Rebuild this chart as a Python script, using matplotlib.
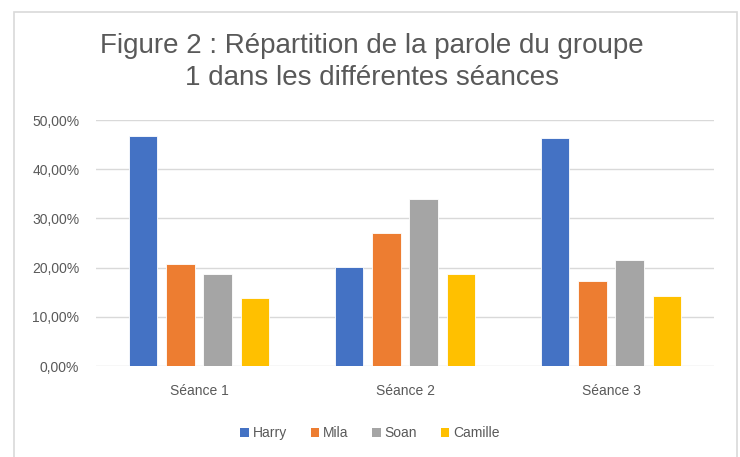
import matplotlib.pyplot as plt
from matplotlib.patches import Patch, Rectangle
from matplotlib.ticker import FuncFormatter
import numpy as np

# Données (en %)
seances = ['Séance 1', 'Séance 2', 'Séance 3']
eleves = ['Harry', 'Mila', 'Soan', 'Camille']
harry = [46.8, 20.2, 46.3]
mila = [20.7, 27.1, 17.3]
soan = [18.6, 33.9, 21.5]
camille = [13.9, 18.6, 14.3]
couleurs = ['#4472C4', '#ED7D31', '#A5A5A5', '#FFC000']

W, H = 740, 457
fig = plt.figure(figsize=(W / 100, H / 100), dpi=100)
ax = fig.add_axes([96 / W, 1 - 366 / H, (714 - 96) / W, (366 - 120) / H])

x = np.arange(len(seances))
step = 0.181
width = 0.138
for i, (serie, c) in enumerate(zip([harry, mila, soan, camille], couleurs)):
    ax.bar(x + (i - 1.5) * step, serie, width, color=c, edgecolor='white',
           linewidth=0.6, zorder=3)

ax.set_xlim(-0.5, 2.5)
ax.set_ylim(0, 50)
ax.set_yticks(range(0, 51, 10))
ax.yaxis.set_major_formatter(FuncFormatter(lambda v, p: f"{v:.2f}".replace('.', ',') + '%'))
ax.grid(axis='y', color='#D9D9D9', linewidth=1, zorder=0)
for s in ax.spines.values():
    s.set_visible(False)
ax.tick_params(length=0, colors='#595959', labelsize=10)
ax.tick_params(axis='y', pad=12)
ax.tick_params(axis='x', pad=13)
ax.set_xticks(x)
ax.set_xticklabels(seances, fontfamily='Liberation Sans')
for t in ax.get_yticklabels():
    t.set_fontfamily('Liberation Sans')

fig.text(372 / W, 1 - 62 / H, 'Figure 2 : Répartition de la parole du groupe\n1 dans les différentes séances',
         ha='center', va='center', fontsize=20, color='#595959',
         fontfamily='Liberation Sans', linespacing=1.3)

handles = [Patch(facecolor=c, label=n) for c, n in zip(couleurs, eleves)]
leg = fig.legend(handles=handles, loc='center', bbox_to_anchor=(0.5, 1 - 433 / H),
                 ncol=4, frameon=False, handlelength=0.6, handleheight=0.6,
                 handletextpad=0.3, columnspacing=1.7,
                 prop={'family': 'Liberation Sans', 'size': 10})
for t in leg.get_texts():
    t.set_color('#595959')

fig.patches.append(Rectangle((14 / W, -0.05), (737 - 14) / W, 1.05 - 12 / H,
                             transform=fig.transFigure, fill=False,
                             edgecolor='#D9D9D9', linewidth=1.2))

fig.savefig('out.png', dpi=100)
